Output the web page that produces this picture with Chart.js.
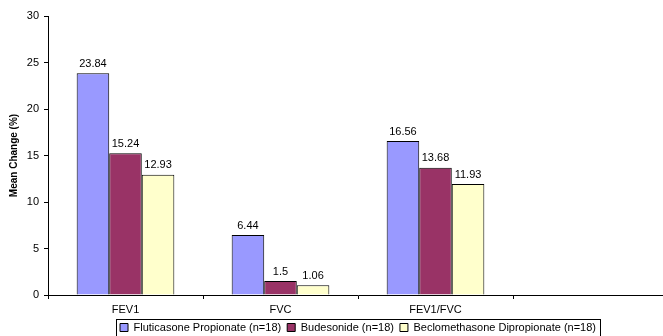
<!DOCTYPE html>
<html>
<head>
<meta charset="utf-8">
<script src="https://cdn.jsdelivr.net/npm/chart.js@4"></script>
<style>
  html, body { margin: 0; padding: 0; background: #fff; overflow: hidden; }
  #wrap { width: 668px; height: 336px; }
</style>
</head>
<body>
<div id="wrap"><canvas id="chart"></canvas></div>
<script>
// lung function mean change by inhaled steroid
const categories = ['FEV1', 'FVC', 'FEV1/FVC', ''];
const fluticasone = [23.84, 6.44, 16.56, null];
const budesonide = [15.24, 1.5, 13.68, null];
const beclomethasone = [12.93, 1.06, 11.93, null];
const yTicks = [0, 5, 10, 15, 20, 25, 30];

const FONT = "'Liberation Sans', Arial, sans-serif";

// value labels above each bar
const barLabels = {
    id: 'barLabels',
    afterDatasetsDraw(chart) {
        const ctx = chart.ctx;
        ctx.save();
        ctx.font = '11px ' + FONT;
        ctx.fillStyle = '#000';
        ctx.textAlign = 'center';
        ctx.textBaseline = 'bottom';
        chart.data.datasets.forEach((ds, i) => {
            chart.getDatasetMeta(i).data.forEach((bar, j) => {
                if (ds.data[j] == null) return;
                ctx.fillText(String(ds.data[j]), bar.x, bar.y - 4);
            });
        });
        ctx.restore();
    }
};

// frame round the legend
const legendBox = {
    id: 'legendBox',
    afterDraw(chart) {
        const boxes = chart.legend.legendHitBoxes;
        if (!boxes || !boxes.length) return;
        const left = Math.min(...boxes.map(b => b.left)) - 4;
        const right = Math.max(...boxes.map(b => b.left + b.width)) + 4;
        const top = Math.min(...boxes.map(b => b.top)) - 3;
        const bottom = Math.max(...boxes.map(b => b.top + b.height)) + 3;
        const ctx = chart.ctx;
        ctx.save();
        ctx.strokeStyle = '#000';
        ctx.lineWidth = 1;
        ctx.strokeRect(Math.round(left) + 0.5, Math.round(top) + 0.5, Math.round(right - left), Math.round(bottom - top));
        ctx.restore();
    }
};

new Chart(document.getElementById('chart'), {
    type: 'bar',
    data: {
        labels: categories,
        datasets: [
            { label: 'Fluticasone Propionate (n=18)', data: fluticasone, backgroundColor: '#9999FF' },
            { label: 'Budesonide (n=18)', data: budesonide, backgroundColor: '#993366' },
            { label: 'Beclomethasone Dipropionate (n=18)', data: beclomethasone, backgroundColor: '#FFFFCC' }
        ]
    },
    options: {
        responsive: true,
        maintainAspectRatio: false,
        animation: false,
        layout: { padding: { top: 16, right: 0, bottom: -7, left: 8 } },
        datasets: {
            bar: {
                borderColor: '#000',
                borderWidth: 1,
                categoryPercentage: 0.63,
                barPercentage: 1
            }
        },
        plugins: {
            tooltip: { enabled: false },
            legend: {
                position: 'bottom',
                fullSize: false,
                labels: {
                    boxWidth: 8,
                    boxHeight: 8,
                    padding: 6,
                    color: '#000',
                    font: { family: FONT, size: 11 }
                }
            }
        },
        scales: {
            x: {
                afterFit(scale) { scale.height = 21; },
                grid: { drawOnChartArea: false, color: '#000', tickLength: 4 },
                border: { color: '#000' },
                ticks: { color: '#000', font: { family: FONT, size: 11 }, padding: 4 },
            },
            y: {
                min: 0,
                max: 30,
                afterBuildTicks(scale) { scale.ticks = yTicks.map(v => ({ value: v })); },
                afterFit(scale) { scale.width = 40; },
                grid: { drawOnChartArea: false, color: '#000', tickLength: 4 },
                border: { color: '#000' },
                ticks: { color: '#000', font: { family: FONT, size: 11 }, padding: 5 },
                title: {
                    display: true,
                    text: 'Mean Change (%)',
                    color: '#000',
                    font: { family: FONT, size: 10, weight: 'bold' },
                    padding: 0
                }
            }
        }
    },
    plugins: [barLabels, legendBox]
});
</script>
</body>
</html>
